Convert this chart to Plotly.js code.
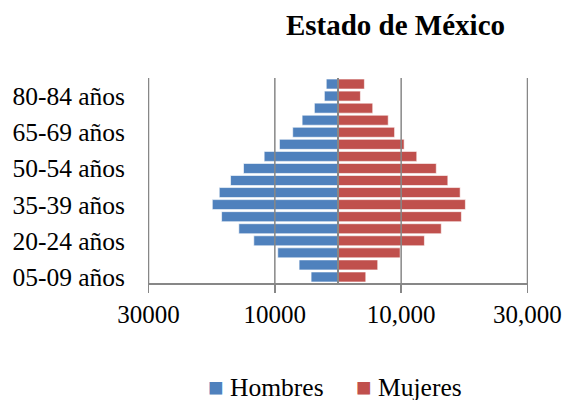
<!DOCTYPE html>
<html>
<head>
<meta charset="utf-8">
<script src="https://cdn.plot.ly/plotly-3.0.1.min.js"></script>
<style>html,body{margin:0;padding:0;background:#fff;}#chart{width:565px;height:400px;}</style>
</head>
<body>
<div id="chart"></div>
<script>
// Age groups, bottom to top
const categories = ["05-09 años","10-14 años","15-19 años","20-24 años","25-29 años","30-34 años","35-39 años","40-44 años","45-49 años","50-54 años","55-59 años","60-64 años","65-69 años","70-74 años","75-79 años","80-84 años","85 y más años"];
const hombres = [4260, 6160, 9540, 13330, 15700, 18430, 19900, 18800, 17010, 14960, 11690, 9270, 7170, 5680, 3740, 2160, 1860];
const mujeres = [4400, 6290, 9840, 13680, 16350, 19540, 20170, 19340, 17390, 15560, 12470, 10470, 8960, 7950, 5500, 3550, 4180];
const shownCategories = ["05-09 años","20-24 años","35-39 años","50-54 años","65-69 años","80-84 años"];
const xTickVals = [-30000, -10000, 10000, 30000];
const xTickText = ["30000", "10000", "10,000", "30,000"];
const seriesNames = ["Hombres", "Mujeres"];
const seriesColors = ["#4F81BD", "#C0504D"];

const FONT = "Liberation Serif";
const GRID = "#878787";

const traces = [
  {
    type: "bar", orientation: "h", name: seriesNames[0],
    y: categories, x: hombres.map(v => -v),
    marker: {color: seriesColors[0], line: {color: "rgba(255,255,255,0.6)", width: 1}},
    hoverinfo: "none"
  },
  {
    type: "bar", orientation: "h", name: seriesNames[1],
    y: categories, x: mujeres,
    marker: {color: seriesColors[1], line: {color: "rgba(255,255,255,0.6)", width: 1}},
    hoverinfo: "none"
  }
];

// grid lines drawn above the bars, as in the original, at the tick values and at zero
const gridShapes = xTickVals.map(v => ({
  type: "line", xref: "x", yref: "paper", x0: v, x1: v, y0: 0, y1: 1,
  layer: "above", line: {color: GRID, width: 1.5}
}));
gridShapes.push({
  type: "line", xref: "x", yref: "paper", x0: 0, x1: 0, y0: 0, y1: 1,
  layer: "above", line: {color: GRID, width: 2}
});

// legend entries (serif text, coloured square keys)
const legendX = [0.1535, 0.542];
const legendAnnotations = seriesNames.map((n, i) => ({
  xref: "paper", yref: "paper", x: legendX[i], y: -0.508,
  xanchor: "left", yanchor: "middle", showarrow: false,
  text: '<span style="color:' + seriesColors[i] + ';font-size:26px">■</span> ' + n,
  font: {family: FONT, size: 25.5, color: "#000"}
}));

const layout = {
  width: 565, height: 400,
  paper_bgcolor: "#fff", plot_bgcolor: "#fff",
  margin: {l: 147.5, r: 36.5, t: 78, b: 116.5, pad: 0},
  font: {family: FONT, size: 25, color: "#000"},
  title: {
    text: "<b>Estado de México</b>",
    font: {family: FONT, size: 29, color: "#000"},
    xref: "container", x: 0.7, xanchor: "center",
    yref: "container", y: 0.939, yanchor: "middle"
  },
  barmode: "overlay",
  bargap: 0.17,
  xaxis: {
    range: [-30080, 30080],
    tickmode: "array", tickvals: xTickVals, ticktext: xTickText,
    showgrid: false, zeroline: false,
    showline: true, linecolor: GRID, linewidth: 2,
    ticks: "outside", ticklen: 8, tickcolor: GRID, tickwidth: 1.5,
    tickfont: {family: FONT, size: 25, color: "#000"},
    automargin: false,
    fixedrange: true
  },
  yaxis: {
    type: "category", categoryorder: "array", categoryarray: categories,
    tickmode: "array", tickvals: shownCategories, ticktext: shownCategories,
    showgrid: false, zeroline: false, showline: false, ticks: "",
    ticklabelstandoff: 22,
    tickfont: {family: FONT, size: 25.5, color: "#000"},
    automargin: false,
    fixedrange: true
  },
  shapes: gridShapes,
  annotations: legendAnnotations,
  showlegend: false
};

Plotly.newPlot("chart", traces, layout, {displayModeBar: false, staticPlot: true});
</script>
</body>
</html>
